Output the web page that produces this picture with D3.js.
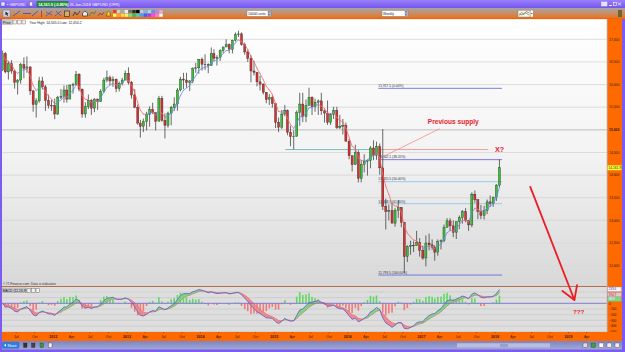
<!DOCTYPE html>
<html><head><meta charset="utf-8">
<script src="https://cdn.jsdelivr.net/npm/d3@7/dist/d3.min.js"></script>
<style>
html,body{margin:0;padding:0;background:#fff;overflow:hidden}
svg{display:block}
text{font-family:"Liberation Sans","DejaVu Sans",Arial,sans-serif}
</style></head><body>
<svg id="chart" width="625" height="352"></svg>
<script>
// ---------------- DATA (GBP/USD x10000, half-monthly candles, Apr-2011 2nd half .. Jan-2018 2nd half)
const firstOpen = 16320;
const closes = [16680,16280,16460,16300,16050,16100,16440,16360,16390,15860,15560,15640,16080,15950,15650,15540,15540,
 15350,15720,15740,15880,15680,15990,16000,16230,15900,15350,15510,15650,15480,15680,15620,15850,16100,16150,16080,16120,15910,16030,16100,16250,
 16050,15770,15500,15150,15080,15180,15340,15450,15380,15190,15700,15210,15100,15370,15500,15570,15880,16120,16100,16040,16080,16350,16370,16560,
 16450,16440,16420,16680,16580,16600,16750,16830,16880,16780,16980,17100,17120,16880,16720,16580,16300,16270,16060,16010,15830,15670,15710,15580,
 15170,15060,15350,15430,14950,14850,14860,15380,15570,15290,15540,15720,15510,15610,15640,15420,15370,15170,15340,15430,15050,15080,15100,14750,
 14430,14230,14500,13930,14240,14300,14320,14600,14440,14630,14160,13310,13200,13220,12940,13220,13290,12960,12200,12420,12450,12440,12520,12340,
 12170,12500,12460,12410,12300,12530,12550,12850,12990,12880,12740,12970,13060,13190,13000,12900,13580,13460,13200,13110,13220,13410,13380,13510,
 13780,14162];
const highs = [16750,16720,16520,16540,16330,16120,16480,16600,16620,16400,15880,15700,16170,16170,15990,15780,15660,
 15690,15750,15900,15980,15990,16000,16040,16300,16250,15910,15610,15780,15680,15700,15690,15900,16150,16309,16200,16180,16130,16070,16150,16310,
 16380,16080,15900,15560,15220,15250,15400,15520,15600,15380,15750,15750,15360,15400,15530,15720,15920,16170,16260,16260,16100,16380,16480,16560,
 16600,16670,16470,16820,16780,16650,16780,16840,17000,16910,16990,17150,17190,17150,16930,16760,16650,16520,16250,16200,16030,15800,15790,15760,
 15590,15270,15440,15550,15450,15090,14990,15430,15820,15820,15670,15930,15740,15690,15670,15820,15450,15650,15350,15510,15510,15330,15240,15160,
 14800,14420,14670,14550,14330,14460,14350,14640,14770,14740,14700,15018,13480,13350,13390,13270,13450,13230,12950,12450,12550,12540,12770,12610,
 12440,12670,12710,12580,12450,12580,12580,12910,13050,13050,13000,12980,13110,13230,13270,13000,13620,13660,13340,13340,13320,13460,13550,13530,
 13800,14345];
const lows = [16300,16250,16110,16240,15910,15780,16020,16140,16260,15770,15400,15270,15600,15890,15420,15470,15420,
 15235,15330,15680,15600,15600,15750,15800,15990,15850,15270,15268,15460,15330,15390,15440,15650,15820,16050,15990,15950,15830,15850,15980,16100,
 16000,15690,15480,15110,14830,14950,14990,15070,15350,14990,15200,15180,14810,15050,15100,15420,15420,15850,15900,15930,15860,16030,16260,16240,
 16310,16320,16250,16430,16520,16420,16520,16700,16850,16690,16690,16950,17050,16860,16660,16500,16050,16200,15960,15870,15780,15590,15550,15490,
 15040,14950,15020,15300,14880,14640,14570,14850,15090,15170,15170,15610,15330,15400,15330,15330,15160,15110,15110,15240,15020,15020,14900,14740,
 14350,14080,14320,13840,13840,14060,13990,14150,14330,14340,14010,13230,12800,13000,12960,12860,13050,12850,11840,12080,12240,12300,12450,12200,
 12130,11986,12340,12350,12110,12220,12360,12520,12840,12770,12630,12590,12810,12930,12960,12770,12850,13390,13030,13030,13020,13140,13300,13300,
 13430,13730];

const priceTicks = [12000,12500,13000,13500,14000,14500,15000,15500,16000,16500,17000];
const macdTicks = [0,-100,-200,-300,-400,-500];
const macdGrid = [200,100,-100,-200,-300,-400,-500];
const monthNames = ["Jan","Apr","Jul","Oct"];
const lastPrice = "14,161.9";
const macdBoxes = ["233.6","194.7","38.9"];
const fibHigh = 15917.5, fibLow = 11793.5;
const fibPcts = [0, 0.382, 0.5, 0.618, 1];
const fibFrom = new Date(2016,5,1), fibTo = new Date(2018,1,5);
const supportLevel = 14565;
const supportFrom = new Date(2015,1,25), supportMid = new Date(2016,3,20), supportTo = new Date(2017,10,28);
const supplyLabel = {text:"Previous supply", date:new Date(2017,5,8), price:15120};
const supplyPointer = [{date:new Date(2017,3,1), price:15025},{date:new Date(2016,5,24), price:14406}];
const xLabel = {text:"X?", date:new Date(2018,0,1), price:14520};
const arrowPts = [{date:new Date(2018,5,25), price:13740},{date:new Date(2019,0,30), price:11243}];
const qLabel = {text:"???", date:new Date(2019,1,20), macd:-190};

// ---------------- SCALES
const svg = d3.select("#chart");
const x = d3.scaleTime().domain([new Date(2012,0,1), new Date(2018,0,1)]).range([53.3,495]);
const y = d3.scaleLinear().domain([12000,17000]).range([265.7,39.3]);
const ym = d3.scaleLinear().domain([0,-500]).range([303.3,331.7]);
const dates = closes.map((_,i)=>{const k=i+1; return new Date(2011, 3+Math.floor(k/2), (k%2)?23:8);});
const opens = closes.map((c,i)=> i===0 ? firstOpen : closes[i-1]);

// ---------------- DEFS
const defs = svg.append("defs");
function vgrad(id, stops){const g=defs.append("linearGradient").attr("id",id).attr("x1",0).attr("y1",0).attr("x2",0).attr("y2",1);
  stops.forEach(s=>g.append("stop").attr("offset",s[0]).attr("stop-color",s[1]));}
vgrad("gMain",[[0,"#ffffff"],[0.5,"#f3f3f3"],[1,"#d8d8d8"]]);
vgrad("gTool",[[0,"#a6a2aa"],[0.45,"#c4906a"],[1,"#f46c10"]]);
vgrad("gTitle",[[0,"#9a80fa"],[1,"#7455ee"]]);
vgrad("gBot",[[0,"#7c84c2"],[1,"#a2a8d6"]]);
defs.append("clipPath").attr("id","cMain").append("rect").attr("x",2).attr("y",19).attr("width",605).attr("height",266);
defs.append("clipPath").attr("id","cMacd").append("rect").attr("x",2).attr("y",287).attr("width",605).attr("height",45);

// ---------------- FRAME
svg.append("rect").attr("width",625).attr("height",352).attr("fill","#7b5cf3");
svg.append("rect").attr("x",2).attr("y",19).attr("width",605).attr("height",267).attr("fill","url(#gMain)");
// title bar
svg.append("rect").attr("x",0).attr("y",0).attr("width",625).attr("height",8).attr("fill","url(#gTitle)");
svg.append("rect").attr("x",1).attr("y",2).attr("width",4).attr("height",4).attr("fill","#dfe8ff").attr("stroke","#3050c0").attr("stroke-width",0.4);
svg.append("text").attr("x",7).attr("y",6).attr("font-size",3.8).attr("fill","#fff").text("▪ GBPUSD");
svg.append("rect").attr("x",29.5).attr("y",2).attr("width",3).attr("height",4).attr("fill","#eee").attr("stroke","#444").attr("stroke-width",0.3);
svg.append("rect").attr("x",37).attr("y",1.3).attr("width",31).attr("height",5.6).attr("fill","#1f9a2e").attr("stroke","#0c6a1a").attr("stroke-width",0.4);
svg.append("text").attr("x",38.2).attr("y",5.6).attr("font-size",3.8).attr("font-weight","bold").attr("fill","#fff").text(lastPrice+" (-0.85%)");
svg.append("text").attr("x",69.5).attr("y",5.6).attr("font-size",3.8).attr("fill","#fff").text("26-Jan-2018 GBPUSD (OFR)");
svg.append("rect").attr("x",601.5).attr("y",2).attr("width",5.5).attr("height",4).attr("fill","#dde4ff").attr("stroke","#fff").attr("stroke-width",0.4);
svg.append("rect").attr("x",609).attr("y",5).attr("width",3).attr("height",0.8).attr("fill","#fff");
svg.append("rect").attr("x",613.5).attr("y",2.5).attr("width",3).attr("height",3).attr("fill","none").attr("stroke","#fff").attr("stroke-width",0.6);
svg.append("path").attr("d","M618,2.5L621,5.5M621,2.5L618,5.5").attr("stroke","#fff").attr("stroke-width",0.8);
// toolbar
svg.append("rect").attr("x",0).attr("y",8).attr("width",625).attr("height",11).attr("fill","url(#gTool)");
svg.append("rect").attr("x",0).attr("y",18.3).attr("width",625).attr("height",0.8).attr("fill","#e8600a");
svg.append("rect").attr("x",3).attr("y",10).attr("width",7).attr("height",7).attr("fill","#cfd2e6").attr("stroke","#6a6a80").attr("stroke-width",0.4);
svg.append("path").attr("d","M5.5,11.5L5.5,15.5L6.6,14.4L7.6,16L8.2,15.6L7.3,14.1L8.6,14Z").attr("fill","#222");
const tb = svg.append("g").attr("stroke-width",0.7).attr("fill","none");
tb.append("path").attr("d","M13,16L20,11").attr("stroke","#2040c0");
tb.append("path").attr("d","M23,13.5L31,13.5").attr("stroke","#2040c0");
tb.append("path").attr("d","M32,16L38,11").attr("stroke","#2040c0");
tb.append("path").attr("d","M41.5,10.5L41.5,17").attr("stroke","#c02020");
tb.append("path").attr("d","M46,16L52,11M46,12L52,15").attr("stroke","#3050c0");
tb.append("path").attr("d","M55,16L61,11M56,11L61,16").attr("stroke","#3050c0");
tb.append("rect").attr("x",64.5).attr("y",11).attr("width",5).attr("height",5.5).attr("stroke","#503020").attr("fill","#c8b070");
tb.append("path").attr("d","M73,16L75,12L77,15L80,11").attr("stroke","#202020");
tb.append("path").attr("d","M82.5,16V13L85,11L87.5,13V16Z").attr("stroke","#333").attr("fill","#e8e8e8");
tb.append("path").attr("d","M89,16L92,12L94,14L96,11").attr("stroke","#208020");
tb.append("path").attr("d","M98,16L100,13L102,15L104,12").attr("stroke","#803030");
tb.append("path").attr("d","M106,16H111L110,15V13A1.5,1.5 0 0 0 107,13V15Z").attr("stroke","#806000").attr("fill","#ffd030");
const palTop=["#ff3030","#d0d0d0","#a8a8a8","#ececec","#707070","#303030","#000000","#a8d0f4","#78b4f0","#98d8f4","#509ce0","#c480e8","#f0a4d4"];
const palBot=["#ffff40","#ffa040","#ffd840","#f0f080","#80e080","#40c040","#40d0d0","#40a0ff","#4060ff","#a040ff","#ff40ff","#ff80c0","#ffffff"];
palTop.forEach((c,i)=>svg.append("rect").attr("x",113+i*3.85).attr("y",10).attr("width",3.5).attr("height",3.2).attr("fill",c));
palBot.forEach((c,i)=>svg.append("rect").attr("x",113+i*3.85).attr("y",13.6).attr("width",3.5).attr("height",3.2).attr("fill",c));
function dropdown(x0,w,label){svg.append("rect").attr("x",x0).attr("y",10.5).attr("width",w).attr("height",5.8).attr("fill","#fff").attr("stroke","#777").attr("stroke-width",0.4);
  svg.append("rect").attr("x",x0+w-3.2).attr("y",11).attr("width",2.8).attr("height",4.8).attr("fill","#8088a8");
  svg.append("path").attr("d",`M${x0+w-2.6},12.8h1.6l-0.8,1.2z`).attr("fill","#fff");
  svg.append("text").attr("x",x0+1).attr("y",14.6).attr("font-size",3.4).attr("fill","#222").text(label);}
dropdown(247,24,"10000 units");
dropdown(382,26,"Weekly");
svg.append("rect").attr("x",518).attr("y",10.2).attr("width",12).attr("height",6.8).attr("fill","#f4f4f4").attr("stroke","#777").attr("stroke-width",0.4);
svg.append("path").attr("d","M519,15.5L521.5,12.5L524,14.5L526.5,11.5L529,13").attr("stroke","#d02020").attr("stroke-width",0.6).attr("fill","none");
svg.append("path").attr("d","M519,14L522,15L525,12.5L529,15").attr("stroke","#20a020").attr("stroke-width",0.6).attr("fill","none");
svg.append("rect").attr("x",530.5).attr("y",10.5).attr("width",2.5).attr("height",6.3).attr("fill","#fff");
svg.append("path").attr("d","M531,13h1.6l-0.8,1.2z").attr("fill","#333");
svg.append("rect").attr("x",618).attr("y",10).attr("width",4).attr("height",7).attr("fill","#507030");
svg.append("rect").attr("x",619).attr("y",11).attr("width",2).attr("height",3).attr("fill","#e03020");

// ---------------- PRICE PANEL
const gGrid = svg.append("g");
priceTicks.forEach(v=>gGrid.append("line").attr("x1",2).attr("x2",607).attr("y1",y(v)).attr("y2",y(v))
  .attr("stroke", v===15000?"#bdbdbd":"#d6d6d6").attr("stroke-width", v===15000?1:0.8));

const gM = svg.append("g").attr("clip-path","url(#cMain)");
// fibonacci
const fibColors = ["#6c6ce2","#6c6ce2","#8ec6ee","#8ec6ee","#6c6ce2"];
fibPcts.forEach((p,i)=>{
  const v = fibHigh - p*(fibHigh-fibLow);
  gM.append("line").attr("x1",x(fibFrom)).attr("x2",x(fibTo)).attr("y1",y(v)).attr("y2",y(v)).attr("stroke",fibColors[i]).attr("stroke-width",0.9);
  gM.append("text").attr("x",x(fibFrom)).attr("y",y(v)-1.2).attr("font-size",3.3).attr("fill","#333")
    .text(d3.format(",.1f")(v)+" ("+d3.format(".2f")(p*100)+"%)");
});
// support / supply line
gM.append("line").attr("x1",x(supportFrom)).attr("x2",x(supportMid)).attr("y1",y(supportLevel)).attr("y2",y(supportLevel)).attr("stroke","#56b4ac").attr("stroke-width",0.8);
gM.append("line").attr("x1",x(supportMid)).attr("x2",x(supportTo)).attr("y1",y(supportLevel)).attr("y2",y(supportLevel)).attr("stroke","#f08a8a").attr("stroke-width",0.8);

// candles
const cd = closes.map((c,i)=>({d:dates[i],o:opens[i],h:Math.max(highs[i],opens[i],c),l:Math.min(lows[i],opens[i],c),c}));
gM.selectAll("line.wick").data(cd).join("line").attr("class","wick")
  .attr("x1",d=>x(d.d)).attr("x2",d=>x(d.d)).attr("y1",d=>y(d.h)).attr("y2",d=>y(d.l))
  .attr("stroke","#3a3a3a").attr("stroke-width",0.75);
gM.selectAll("rect.body").data(cd).join("rect").attr("class","body")
  .attr("x",d=>x(d.d)-1.05).attr("width",2.1)
  .attr("y",d=>y(Math.max(d.o,d.c))).attr("height",d=>Math.max(0.6,Math.abs(y(d.o)-y(d.c))))
  .attr("fill",d=>d.c>=d.o?"#36c036":"#d63030").attr("stroke","#262626").attr("stroke-width",0.35);

// moving average (EMA of closes) coloured by slope
const ma=[]; closes.forEach((c,i)=>ma.push(i?ma[i-1]+0.33*(c-ma[i-1]):c));
for(let i=1;i<ma.length;i++){
  gM.append("line").attr("x1",x(dates[i-1])).attr("x2",x(dates[i])).attr("y1",y(ma[i-1])).attr("y2",y(ma[i]))
    .attr("stroke", ma[i]>=ma[i-1]?"#5d8ff0":"#f26a6a").attr("stroke-width",0.8).attr("stroke-linecap","round");
}

// annotations
gM.append("line").attr("x1",x(supplyPointer[0].date)).attr("y1",y(supplyPointer[0].price))
  .attr("x2",x(supplyPointer[1].date)).attr("y2",y(supplyPointer[1].price)).attr("stroke","#f28080").attr("stroke-width",0.7);
svg.append("text").attr("x",x(supplyLabel.date)).attr("y",y(supplyLabel.price)).attr("text-anchor","middle")
  .attr("font-size",6.6).attr("font-weight","bold").attr("fill","#e8202a").text(supplyLabel.text);
svg.append("text").attr("x",x(xLabel.date)).attr("y",y(xLabel.price)).attr("text-anchor","start")
  .attr("font-size",7.2).attr("font-weight","bold").attr("fill","#e8202a").text(xLabel.text);

// legend row
svg.append("rect").attr("x",2).attr("y",19.5).attr("width",10.5).attr("height",5).attr("fill","#c8c8d0").attr("stroke","#888").attr("stroke-width",0.3);
svg.append("text").attr("x",3).attr("y",23.5).attr("font-size",3.4).attr("fill","#111").text("Price");
[13,17.5,22].forEach(xx=>svg.append("rect").attr("x",xx).attr("y",20).attr("width",3.6).attr("height",4).attr("fill","#f2f2f2").attr("stroke","#444").attr("stroke-width",0.35));
svg.append("text").attr("x",29.5).attr("y",23.6).attr("font-size",3.4).attr("fill","#222").text("Year High: 14,345.0  Low: 12,450.2");
svg.append("text").attr("x",3).attr("y",285.4).attr("font-size",3.3).attr("fill","#333").text("© IT-Finance.com: Data is indicative");

// ---------------- MACD PANEL
svg.append("rect").attr("x",2).attr("y",287).attr("width",605).attr("height",45).attr("fill","#dedede");
svg.append("line").attr("x1",2).attr("x2",622).attr("y1",286.5).attr("y2",286.5).attr("stroke","#b4704e").attr("stroke-width",1.1);
macdGrid.forEach(v=>svg.append("line").attr("x1",2).attr("x2",607).attr("y1",ym(v)).attr("y2",ym(v)).attr("stroke","#c9c9c9").attr("stroke-width",0.7));
const aF=0.304,aS=0.154,aG=0.384;
let ef=closes[0], es=closes[0]; const macd=[], sig=[];
closes.forEach((c,i)=>{ if(i){ef+=aF*(c-ef); es+=aS*(c-es);} macd.push(ef-es); });
let sg=macd[0]; macd.forEach((m,i)=>{ if(i) sg+=aG*(m-sg); sig.push(sg); });
const gD = svg.append("g").attr("clip-path","url(#cMacd)");
// histogram
const hk = 2.1;
gD.selectAll("rect.h").data(macd).join("rect").attr("class","h")
  .attr("x",(m,i)=>x(dates[i])-0.8).attr("width",1.6)
  .attr("y",(m,i)=>Math.min(ym(0),ym((m-sig[i])*hk))).attr("height",(m,i)=>Math.abs(ym((m-sig[i])*hk)-ym(0)))
  .attr("fill",(m,i)=>m-sig[i]>=0?"#62d862":"#f07a7a");
// fill between macd and signal
for(let i=1;i<macd.length;i++){
  const x0=x(dates[i-1]), x1=x(dates[i]);
  const diff=(macd[i]-sig[i])+(macd[i-1]-sig[i-1]);
  gD.append("path").attr("d",`M${x0},${ym(macd[i-1])}L${x1},${ym(macd[i])}L${x1},${ym(sig[i])}L${x0},${ym(sig[i-1])}Z`)
    .attr("fill",diff>=0?"#7ed67e":"#ee8a8a").attr("stroke",diff>=0?"#7ed67e":"#ee8a8a").attr("stroke-width",0.3);
}
gD.append("line").attr("x1",2).attr("x2",607).attr("y1",ym(0)).attr("y2",ym(0)).attr("stroke","#6666d6").attr("stroke-width",0.8);
gD.append("path").datum(sig).attr("d",d3.line().x((v,i)=>x(dates[i])).y(v=>ym(v))).attr("fill","none").attr("stroke","#e06868").attr("stroke-width",0.6);
gD.append("path").datum(macd).attr("d",d3.line().x((v,i)=>x(dates[i])).y(v=>ym(v))).attr("fill","none").attr("stroke","#5c5cd8").attr("stroke-width",0.8);
svg.append("rect").attr("x",2).attr("y",288).attr("width",24).attr("height",4.6).attr("fill","#c8c8d0").attr("stroke","#888").attr("stroke-width",0.3);
svg.append("text").attr("x",2.8).attr("y",291.6).attr("font-size",3.3).attr("fill","#111").text("MACD (12,26,9)");
[27,31.5,36].forEach(xx=>svg.append("rect").attr("x",xx).attr("y",288.2).attr("width",3.6).attr("height",4).attr("fill","#f2f2f2").attr("stroke","#444").attr("stroke-width",0.35));

// ---------------- RIGHT AXIS
svg.append("rect").attr("x",607).attr("y",19).attr("width",15).attr("height",322).attr("fill","#ff6a00");
svg.append("line").attr("x1",607).attr("x2",607).attr("y1",19).attr("y2",332).attr("stroke","#b8c2d6").attr("stroke-width",0.8);
priceTicks.forEach(v=>svg.append("text").attr("x",609).attr("y",y(v)+1.2).attr("font-size",3.4)
  .attr("font-weight",v===15000?"bold":"normal").attr("fill","#2a1a10").text(d3.format(",")(v)));
svg.append("rect").attr("x",607.5).attr("y",y(14161.9)-2.6).attr("width",14).attr("height",5).attr("fill","#ffff3a").attr("stroke","#c8a800").attr("stroke-width",0.3);
svg.append("text").attr("x",608.3).attr("y",y(14161.9)+1.2).attr("font-size",3.3).attr("fill","#222").text(lastPrice);
const boxFill=["#f8f8ff","#e6c6c6","#7ed67e"], boxText=["#3a3ab0","#b03030","#ffffff"], boxY=[289.3,294.7,299.3];
macdBoxes.forEach((t,i)=>{svg.append("rect").attr("x",607.5).attr("y",boxY[i]-2.3).attr("width",14).attr("height",4.5).attr("fill",boxFill[i]).attr("stroke","#8888b8").attr("stroke-width",0.3);
  svg.append("text").attr("x",608.4).attr("y",boxY[i]+1.1).attr("font-size",3.2).attr("fill",boxText[i]).text(t);});
macdTicks.forEach(v=>svg.append("text").attr("x",609).attr("y",ym(v)+1.2).attr("font-size",3.3).attr("fill","#2a1a10").text(d3.format(",")(v)));

// ---------------- X AXIS
svg.append("rect").attr("x",2).attr("y",332).attr("width",620).attr("height",9).attr("fill","#ff6a00");
const qTicks = d3.timeMonth.every(3).range(new Date(2011,6,1), new Date(2019,6,1));
qTicks.forEach(t=>{
  const m=t.getMonth();
  svg.append("line").attr("x1",x(t)).attr("x2",x(t)).attr("y1",332).attr("y2",333.3).attr("stroke","#7a3000").attr("stroke-width",0.5);
  svg.append("text").attr("x",x(t)).attr("y",338.2).attr("text-anchor","middle").attr("font-size",3.6)
    .attr("font-weight",m===0?"bold":"normal").attr("fill","#2a1a10").text(m===0?t.getFullYear():monthNames[m/3]);
});

// ---------------- BOTTOM BAR
svg.append("rect").attr("x",2).attr("y",341).attr("width",620).attr("height",8.5).attr("fill","url(#gBot)");
svg.append("rect").attr("x",2.5).attr("y",342.3).attr("width",16.5).attr("height",6).attr("rx",0.8).attr("fill","#2f7fe2").attr("stroke","#1a50a0").attr("stroke-width",0.3);
svg.append("text").attr("x",7.5).attr("y",346.6).attr("font-size",3.4).attr("fill","#fff").text("Share");
svg.append("path").attr("d","M4,345.3l2,-1.5v3z").attr("fill","#fff");
[[23.5,"#333"],[31.5,"#444"],[40,"#30a030"],[48.5,"#eee"]].forEach(p=>svg.append("rect").attr("x",p[0]).attr("y",343).attr("width",3.5).attr("height",4.5).attr("fill",p[1]).attr("stroke","#222").attr("stroke-width",0.3));
svg.append("rect").attr("x",457).attr("y",343.3).attr("width",93).attr("height",4.2).attr("fill","#b9bedf");
svg.append("rect").attr("x",500).attr("y",343.8).attr("width",8).attr("height",3.2).attr("fill","#9aa0cc");
[583,591,599,607,615].forEach((xx,i)=>svg.append("rect").attr("x",xx).attr("y",343).attr("width",4.5).attr("height",4.5).attr("fill",["#ddd","#40a040","#fff","#eee","#eee"][i]).attr("stroke","#333").attr("stroke-width",0.35));

// ---------------- ARROW & ??? (drawn on top)
const ax0=x(arrowPts[0].date), ay0=y(arrowPts[0].price), ax1=x(arrowPts[1].date), ay1=y(arrowPts[1].price);
svg.append("line").attr("x1",ax0).attr("y1",ay0).attr("x2",ax1).attr("y2",ay1).attr("stroke","#ee1c24").attr("stroke-width",1.8).attr("stroke-linecap","round");
const ang=Math.atan2(ay1-ay0,ax1-ax0), L=15, spread=0.55;
svg.append("path").attr("d",`M${ax1-L*Math.cos(ang-spread)},${ay1-L*Math.sin(ang-spread)}L${ax1},${ay1}L${ax1-L*Math.cos(ang+spread)},${ay1-L*Math.sin(ang+spread)}`)
  .attr("fill","none").attr("stroke","#ee1c24").attr("stroke-width",1.8).attr("stroke-linecap","round").attr("stroke-linejoin","round");
svg.append("text").attr("x",x(qLabel.date)).attr("y",ym(qLabel.macd)).attr("text-anchor","middle")
  .attr("font-size",6.2).attr("font-weight","bold").attr("fill","#e8202a").text(qLabel.text);
</script>
</body></html>
